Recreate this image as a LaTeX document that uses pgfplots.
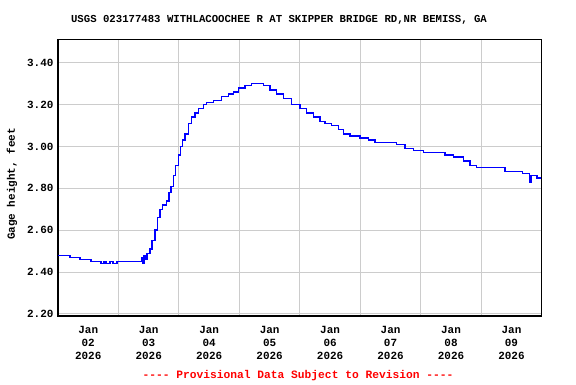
\documentclass[border=0pt]{standalone}
\usepackage{pgfplots}
\pgfplotsset{compat=1.18}
\usepackage{fontspec}
\setmainfont{Liberation Mono}[Ligatures=ResetAll]
\setmonofont{Liberation Mono}
\definecolor{gridgray}{RGB}{204,204,204}
\begin{document}
\begin{tikzpicture}[x=1bp,y=1bp]
\useasboundingbox (0,0) rectangle (576,384);
\begin{axis}[
  at={(58bp,68bp)}, anchor=south west,
  width=483.7bp, height=276.7bp, scale only axis,
  xmin=2, xmax=10, ymin=2.19, ymax=3.512,
  xtick={2.5,3.5,4.5,5.5,6.5,7.5,8.5,9.5},
  xticklabels={{Jan\\02\\2026},{Jan\\03\\2026},{Jan\\04\\2026},{Jan\\05\\2026},{Jan\\06\\2026},{Jan\\07\\2026},{Jan\\08\\2026},{Jan\\09\\2026}},
  minor xtick={3,4,5,6,7,8,9},
  xminorgrids=true, xmajorgrids=false,
  ytick={2.2,2.4,2.6,2.8,3.0,3.2,3.4},
  ymajorgrids=true,
  major tick length=0pt, minor tick length=0pt,
  grid style={gridgray, line width=1bp},
  minor grid style={gridgray, line width=1bp},
  axis line style={black, line width=1.3bp},
  /pgf/number format/assume math mode=true,
  yticklabel={\pgfmathprintnumber[fixed,fixed zerofill,precision=2]{\tick}},
  ticklabel style={font=\bfseries\fontsize{11}{13}\selectfont},
  xticklabel style={align=center, yshift=-7bp},
  yticklabel style={xshift=-1bp},
  clip=true,
]
\addplot[const plot, color={rgb,255:red,0;green,0;blue,255}, line width=1.4bp] coordinates {
(2.000,2.48) (2.198,2.47) (2.364,2.46) (2.546,2.45) (2.711,2.44) (2.760,2.45) (2.794,2.44) (2.860,2.45) (2.910,2.44) (2.976,2.45)
(3.357,2.45) (3.390,2.47) (3.406,2.44) (3.423,2.48) (3.456,2.46) (3.472,2.49) (3.522,2.51) (3.555,2.55) (3.605,2.60)
(3.643,2.66) (3.687,2.70) (3.732,2.72) (3.798,2.74) (3.836,2.78) (3.869,2.81) (3.907,2.86) (3.947,2.91) (3.990,2.96)
(4.030,3.00) (4.063,3.03) (4.101,3.06) (4.156,3.11) (4.212,3.14) (4.266,3.16) (4.321,3.18) (4.404,3.20) (4.460,3.21)
(4.569,3.22) (4.708,3.24) (4.817,3.25) (4.900,3.26) (4.983,3.28) (5.093,3.29) (5.204,3.30) (5.396,3.29) (5.507,3.27)
(5.618,3.25) (5.727,3.23) (5.866,3.20) (6.003,3.18) (6.114,3.16) (6.223,3.14) (6.334,3.12) (6.417,3.11) (6.528,3.10)
(6.637,3.08) (6.720,3.06) (6.830,3.05) (6.996,3.04) (7.133,3.03) (7.244,3.02) (7.464,3.02) (7.603,3.01) (7.740,2.99)
(7.878,2.98) (8.043,2.97) (8.402,2.96) (8.539,2.95) (8.705,2.93) (8.815,2.91) (8.926,2.90) (9.146,2.90) (9.394,2.88)
(9.687,2.87) (9.780,2.87) (9.800,2.83) (9.825,2.86) (9.919,2.85) (9.985,2.85)
};
\end{axis}
\node[font=\bfseries\fontsize{10.7}{13}\selectfont] at (279,364) {USGS 023177483 WITHLACOOCHEE R AT SKIPPER BRIDGE RD,NR BEMISS, GA};
\node[font=\bfseries\fontsize{11}{13}\selectfont, rotate=90] at (12,200) {Gage height, feet};
\node[font=\bfseries\fontsize{11.3}{13}\selectfont, text=red] at (298,8) {-{}-{}-{}- Provisional Data Subject to Revision -{}-{}-{}-};
\end{tikzpicture}
\end{document}
